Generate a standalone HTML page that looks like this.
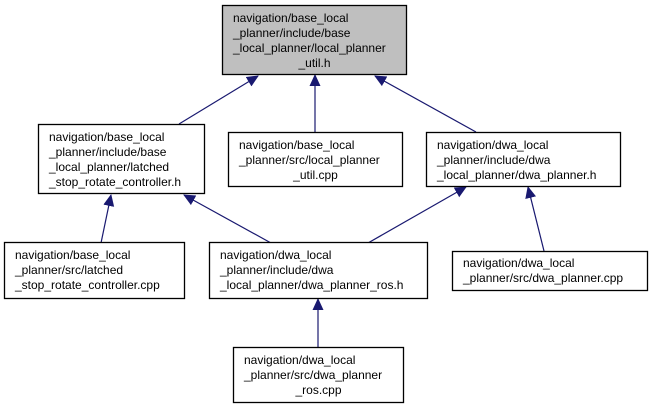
<!DOCTYPE html>
<html><head><meta charset="utf-8"><style>
html,body{margin:0;padding:0;background:#fff;}
svg{display:block;}
text{font-family:"Liberation Sans",Arial,sans-serif;font-size:12px;fill:#000;}
</style></head><body>
<svg width="651" height="408" viewBox="0 0 651 408" xmlns="http://www.w3.org/2000/svg">
<defs>
<marker id="a" markerWidth="12" markerHeight="12" refX="11" refY="6" orient="auto" markerUnits="userSpaceOnUse" viewBox="0 0 12 12">
<path d="M0,0.5 L12,6 L0,11.5 z" fill="#191970"/>
</marker>
</defs>
<g stroke="#191970" stroke-width="1.2" fill="none">
<line x1="179" y1="124" x2="258" y2="76" marker-end="url(#a)"/>
<line x1="315" y1="132" x2="315" y2="75" marker-end="url(#a)"/>
<line x1="476" y1="132" x2="375" y2="76" marker-end="url(#a)"/>
<line x1="101" y1="243" x2="111" y2="195" marker-end="url(#a)"/>
<line x1="271" y1="243" x2="184" y2="195" marker-end="url(#a)"/>
<line x1="368" y1="243" x2="466" y2="187" marker-end="url(#a)"/>
<line x1="544" y1="251" x2="528" y2="187" marker-end="url(#a)"/>
<line x1="318" y1="347" x2="318" y2="299" marker-end="url(#a)"/>
</g>
<g stroke="#000" stroke-width="1.3">
<rect x="222.5" y="5.5" width="184" height="69" fill="#bfbfbf"/>
<rect x="38.5" y="124.5" width="166" height="69" fill="#fff"/>
<rect x="228.5" y="132.5" width="174" height="54" fill="#fff"/>
<rect x="426.5" y="132.5" width="194" height="54" fill="#fff"/>
<rect x="4.5" y="242.5" width="180" height="56" fill="#fff"/>
<rect x="209.5" y="242.5" width="218" height="56" fill="#fff"/>
<rect x="452.5" y="251.5" width="195" height="39" fill="#fff"/>
<rect x="233.5" y="347.5" width="170" height="55" fill="#fff"/>
</g>
<text x="233" y="22">navigation/base_local</text>
<text x="233" y="37">_planner/include/base</text>
<text x="233" y="52">_local_planner/local_planner</text>
<text x="314.5" y="67" text-anchor="middle">_util.h</text>

<text x="49" y="141">navigation/base_local</text>
<text x="49" y="156">_planner/include/base</text>
<text x="49" y="171">_local_planner/latched</text>
<text x="49" y="186">_stop_rotate_controller.h</text>

<text x="239" y="149">navigation/base_local</text>
<text x="239" y="164">_planner/src/local_planner</text>
<text x="315.5" y="179" text-anchor="middle">_util.cpp</text>

<text x="437" y="149">navigation/dwa_local</text>
<text x="437" y="164">_planner/include/dwa</text>
<text x="437" y="179">_local_planner/dwa_planner.h</text>

<text x="15" y="259">navigation/base_local</text>
<text x="15" y="274">_planner/src/latched</text>
<text x="15" y="289">_stop_rotate_controller.cpp</text>

<text x="220" y="259">navigation/dwa_local</text>
<text x="220" y="274">_planner/include/dwa</text>
<text x="220" y="289">_local_planner/dwa_planner_ros.h</text>

<text x="463" y="267">navigation/dwa_local</text>
<text x="463" y="282">_planner/src/dwa_planner.cpp</text>

<text x="244" y="364">navigation/dwa_local</text>
<text x="244" y="379">_planner/src/dwa_planner</text>
<text x="318.5" y="394" text-anchor="middle">_ros.cpp</text>
</svg>
</body></html>
